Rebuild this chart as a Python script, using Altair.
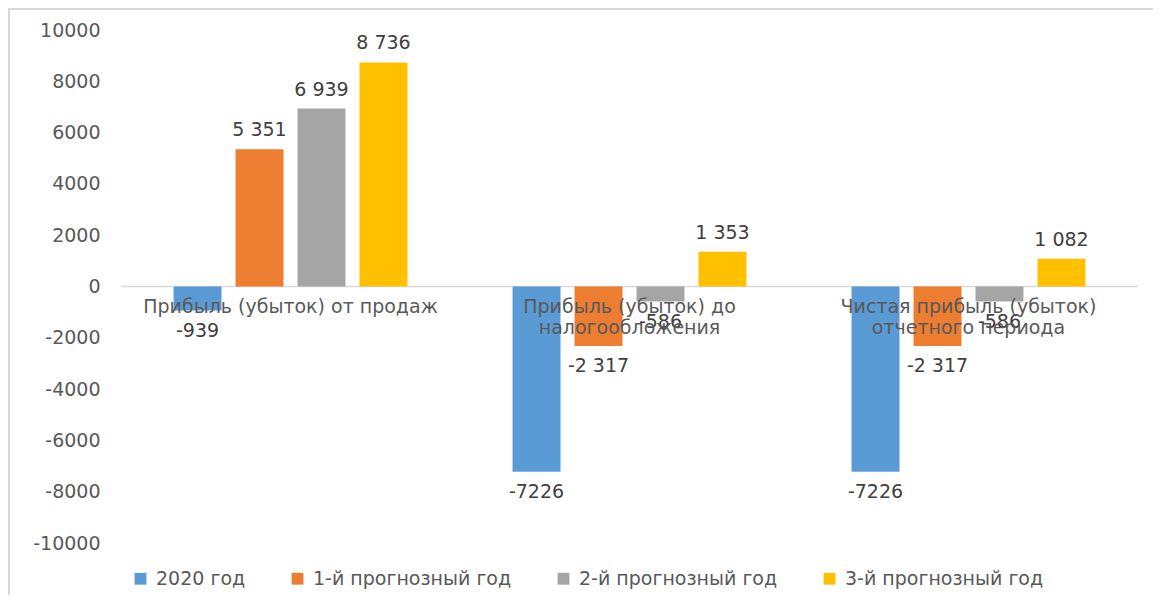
import altair as alt
import pandas as pd

categories = ["Прибыль (убыток) от продаж",
              "Прибыль (убыток) до налогообложения",
              "Чистая прибыль (убыток) отчетного периода"]
category_lines = ["Прибыль (убыток) от продаж",
                  "Прибыль (убыток) до\nналогообложения",
                  "Чистая прибыль (убыток)\nотчетного периода"]
series = ["2020 год", "1-й прогнозный год", "2-й прогнозный год", "3-й прогнозный год"]
colors = ["#5B9BD5", "#ED7D31", "#A5A5A5", "#FFC000"]

values_2020 = [-939, -7226, -7226]
values_y1 = [5351, -2317, -2317]
values_y2 = [6939, -586, -586]
values_y3 = [8736, 1353, 1082]
labels_2020 = ["-939", "-7226", "-7226"]
labels_y1 = ["5 351", "-2 317", "-2 317"]
labels_y2 = ["6 939", "-586", "-586"]
labels_y3 = ["8 736", "1 353", "1 082"]
y_ticks = [-10000, -8000, -6000, -4000, -2000, 0, 2000, 4000, 6000, 8000, 10000]

rows = []
for s, vals, labs in zip(series,
                         [values_2020, values_y1, values_y2, values_y3],
                         [labels_2020, labels_y1, labels_y2, labels_y3]):
    for c, v, l in zip(categories, vals, labs):
        rows.append({"cat": c, "series": s, "value": v, "label": l})
df = pd.DataFrame(rows)
cat_df = pd.DataFrame({"cat": categories, "text": category_lines})

FONT = "DejaVu Sans"
W, H = 1017, 513

xs = alt.X("cat:N", sort=categories, axis=None,
           scale=alt.Scale(paddingInner=0.31, paddingOuter=0.155))
xo = alt.XOffset("series:N", sort=series, scale=alt.Scale(paddingInner=0.226))
ys = alt.Y("value:Q", scale=alt.Scale(domain=[-10000, 10000], nice=False),
           axis=alt.Axis(values=y_ticks, labelExpr="datum.value + ''", title=None,
                         domain=False, ticks=False, grid=False, labelPadding=21,
                         labelColor="#595959", labelFontSize=19, labelFont=FONT))

bars = alt.Chart(df).mark_bar().encode(
    x=xs, xOffset=xo, y=ys,
    color=alt.Color("series:N", sort=series,
                    scale=alt.Scale(domain=series, range=colors),
                    legend=alt.Legend(title=None, orient="none", direction="horizontal",
                                      legendX=10, legendY=539, symbolType="square",
                                      symbolSize=140, symbolStrokeWidth=0,
                                      labelFontSize=19, labelFont=FONT, labelLimit=0,
                                      labelColor="#595959", labelOffset=6,
                                      columnPadding=42)),
)

zero = alt.Chart(pd.DataFrame({"z": [0]})).mark_rule(color="#D9D9D9", strokeWidth=1.5).encode(
    y=alt.Y("z:Q"))

pos_labels = alt.Chart(df).transform_filter("datum.value >= 0").mark_text(
    baseline="bottom", dy=-9, fontSize=19, font=FONT, color="#404040").encode(
    x=xs, xOffset=xo, y=alt.Y("value:Q"), text="label:N")
neg_labels = alt.Chart(df).transform_filter("datum.value < 0").mark_text(
    baseline="top", dy=11, fontSize=19, font=FONT, color="#404040").encode(
    x=xs, xOffset=xo, y=alt.Y("value:Q"), text="label:N")

cat_labels = alt.Chart(cat_df).mark_text(
    baseline="top", dy=11, fontSize=19, font=FONT, color="#595959",
    lineBreak="\n", lineHeight=21).encode(
    x=xs, y=alt.datum(0), text="text:N")

frame_top = alt.Chart(pd.DataFrame({"a": [0]})).mark_rule(color="#D9D9D9", strokeWidth=2).encode(
    x=alt.value(-113), x2=alt.value(1040), y=alt.value(-21))
frame_left = alt.Chart(pd.DataFrame({"a": [0]})).mark_rule(color="#D9D9D9", strokeWidth=2).encode(
    x=alt.value(-112), y=alt.value(-22), y2=alt.value(570))

chart = alt.layer(zero, bars, pos_labels, neg_labels, cat_labels, frame_top, frame_left).properties(
    width=W, height=H,
    autosize=alt.AutoSizeParams(type="none"),
    padding={"left": 113, "top": 22, "right": 15, "bottom": 52},
).configure(background="white").configure_view(stroke=None)

chart.save("out.html", embed_options={"renderer": "svg", "actions": False})
